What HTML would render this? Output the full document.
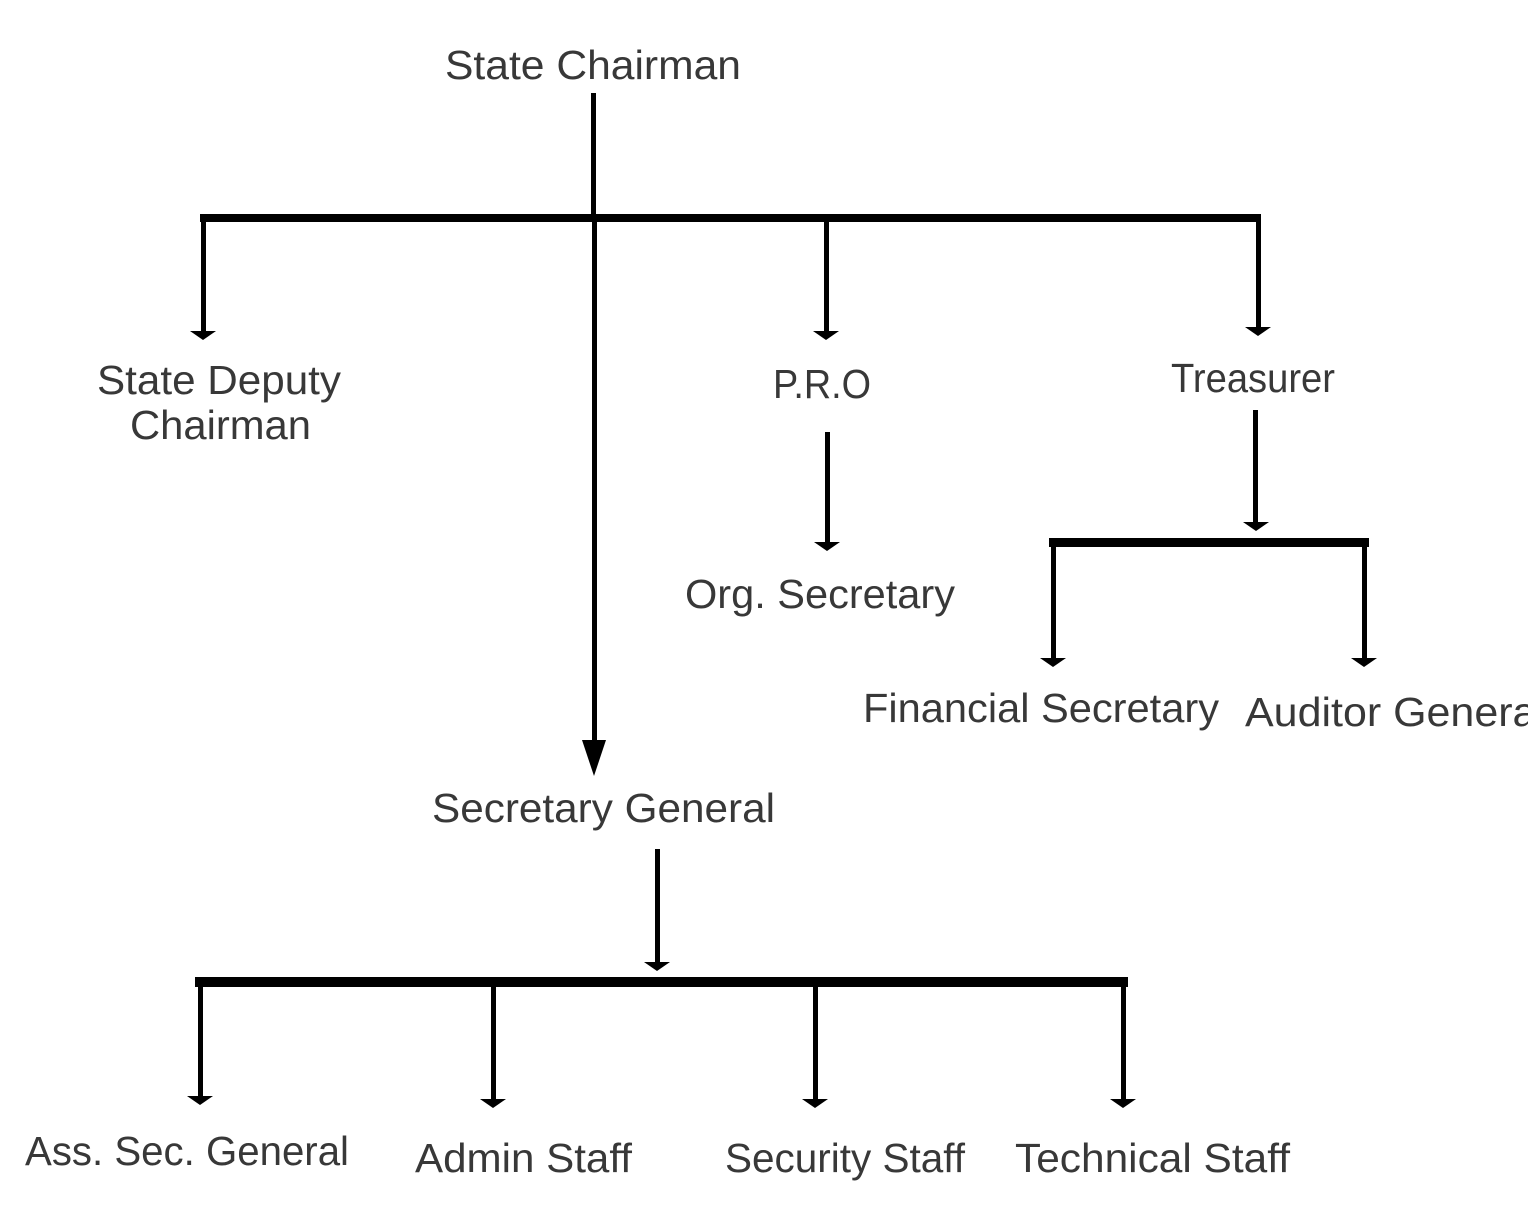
<!DOCTYPE html>
<html>
<head>
<meta charset="utf-8">
<style>
  html,body{margin:0;padding:0;background:#fff;overflow:hidden;}
  svg{display:block;}
  text{font-family:"Liberation Sans","DejaVu Sans",sans-serif;font-size:41px;fill:#383838;}
</style>
</head>
<body>
<svg width="1528" height="1212" viewBox="0 0 1528 1212" xmlns="http://www.w3.org/2000/svg">
  <rect x="0" y="0" width="1528" height="1212" fill="#fff"/>
  <g fill="#000">
    <!-- top trunk -->
    <rect x="591" y="93" width="5" height="124"/>
    <rect x="200" y="214" width="1061" height="8"/>
    <!-- State Deputy arrow -->
    <rect x="201" y="220" width="5" height="112"/>
    <polygon points="190,331 216,331 203,340"/>
    <!-- Secretary General long arrow -->
    <rect x="592" y="220" width="5" height="522"/>
    <polygon points="582,740 606,740 594,776"/>
    <!-- PRO arrow -->
    <rect x="824" y="220" width="5" height="112"/>
    <polygon points="813,331 839,331 826,340"/>
    <!-- Treasurer arrow -->
    <rect x="1256" y="220" width="5" height="108"/>
    <polygon points="1245,327 1271,327 1258,336"/>
    <!-- PRO -> Org Secretary -->
    <rect x="825" y="432" width="5" height="112"/>
    <polygon points="814,542 840,542 827,551"/>
    <!-- Treasurer -> bar -->
    <rect x="1253" y="410" width="5" height="113"/>
    <polygon points="1243,522 1269,522 1256,531"/>
    <!-- finance bar -->
    <rect x="1049" y="538" width="320" height="9"/>
    <rect x="1051" y="545" width="5" height="114"/>
    <polygon points="1040,658 1066,658 1053,667"/>
    <rect x="1362" y="545" width="5" height="114"/>
    <polygon points="1351,658 1377,658 1364,667"/>
    <!-- Secretary General -> bar -->
    <rect x="655" y="849" width="5" height="115"/>
    <polygon points="644,962 670,962 657,971"/>
    <!-- bottom bar -->
    <rect x="195" y="977" width="933" height="10"/>
    <rect x="198" y="985" width="5" height="113"/>
    <polygon points="187,1096 213,1096 200,1105"/>
    <rect x="491" y="985" width="5" height="115"/>
    <polygon points="480,1099 506,1099 493,1108"/>
    <rect x="813" y="985" width="5" height="115"/>
    <polygon points="802,1099 828,1099 815,1108"/>
    <rect x="1121" y="985" width="5" height="115"/>
    <polygon points="1110,1099 1136,1099 1123,1108"/>
  </g>

  <text x="445" y="79" textLength="296" lengthAdjust="spacingAndGlyphs">State Chairman</text>
  <text x="97" y="394" textLength="244" lengthAdjust="spacingAndGlyphs">State Deputy</text>
  <text x="130" y="439" textLength="181" lengthAdjust="spacingAndGlyphs">Chairman</text>
  <text x="773" y="398" textLength="98" lengthAdjust="spacingAndGlyphs">P.R.O</text>
  <text x="1171" y="392" textLength="164" lengthAdjust="spacingAndGlyphs">Treasurer</text>
  <text x="685" y="608" textLength="270" lengthAdjust="spacingAndGlyphs">Org. Secretary</text>
  <text x="863" y="722" textLength="356" lengthAdjust="spacingAndGlyphs">Financial Secretary</text>
  <text x="1245" y="726" textLength="301" lengthAdjust="spacingAndGlyphs">Auditor General</text>
  <text x="432" y="822" textLength="343" lengthAdjust="spacingAndGlyphs">Secretary General</text>
  <text x="25" y="1165" textLength="324" lengthAdjust="spacingAndGlyphs">Ass. Sec. General</text>
  <text x="415" y="1172" textLength="217" lengthAdjust="spacingAndGlyphs">Admin Staff</text>
  <text x="725" y="1172" textLength="240" lengthAdjust="spacingAndGlyphs">Security Staff</text>
  <text x="1015" y="1172" textLength="275" lengthAdjust="spacingAndGlyphs">Technical Staff</text>
</svg>
</body>
</html>
